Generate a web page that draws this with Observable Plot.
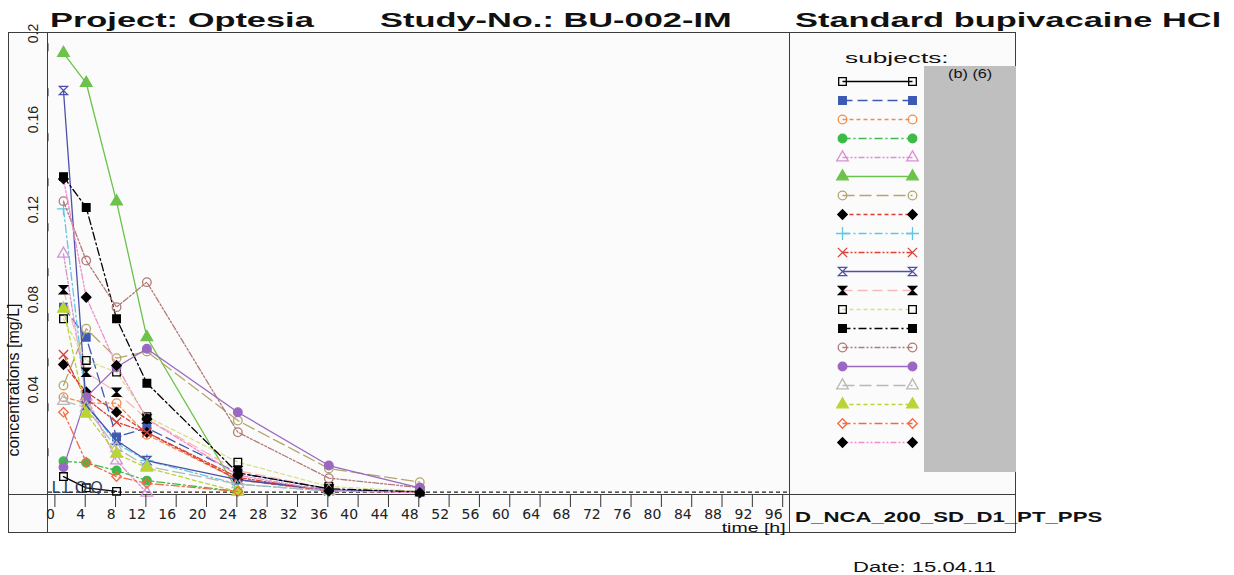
<!DOCTYPE html>
<html><head><meta charset="utf-8">
<script src="https://cdn.jsdelivr.net/npm/d3@7"></script>
<script src="https://cdn.jsdelivr.net/npm/@observablehq/plot@0.6"></script>
<style>
body{margin:0;background:#fff;}
#wrap{position:relative;width:1234px;height:575px;overflow:hidden;font-family:"Liberation Sans",Arial,sans-serif;color:#111;}
.t{position:absolute;white-space:nowrap;transform-origin:0 0;line-height:1;}
.ln{position:absolute;border-color:#3c3c3c;border-style:solid;border-width:0;}
#main,#legend{position:absolute;}
#main g[aria-label="x-axis tick label"]{font-family:"DejaVu Sans",sans-serif;font-size:14px;}
#main g[aria-label="y-axis tick label"]{font-family:"Liberation Sans",Arial,sans-serif;font-size:14px;}
#main g[aria-label="text"] text{letter-spacing:3px;}
</style></head><body><div id="wrap">
<div class="ln" style="left:8px;top:32px;width:1008px;height:501px;border-width:1.5px;box-sizing:border-box;background:#fbfbfb"></div>
<div class="ln" style="left:8px;top:494px;width:1008px;height:0;border-top-width:1.5px"></div>
<div class="ln" style="left:47px;top:32px;width:0;height:501px;border-left-width:1.5px"></div>
<div class="ln" style="left:789px;top:32px;width:0;height:501px;border-left-width:1.5px"></div>
<div style="position:absolute;left:924px;top:66px;width:92px;height:406px;background:#bfbfbf"></div>
<div class="t" style="left:948px;top:67px;font-size:13px;transform:scaleX(1.25)">(b) (6)</div>
<div class="t" style="left:845px;top:50px;font-size:15px;transform:scaleX(1.75)">subjects:</div>
<div class="t" style="left:50px;top:10px;font-size:20px;font-weight:bold;transform:scaleX(1.72)">Project: Optesia</div>
<div class="t" style="left:380px;top:10px;font-size:20px;font-weight:bold;transform:scaleX(1.72)">Study-No.: BU-002-IM</div>
<div class="t" style="left:795px;top:10px;font-size:20px;font-weight:bold;transform:scaleX(1.72)">Standard bupivacaine HCl</div>
<div class="t" style="left:795px;top:509px;font-size:15px;font-weight:bold;transform:scaleX(1.48)">D_NCA_200_SD_D1_PT_PPS</div>
<div class="t" style="left:853px;top:559px;font-size:15px;transform:scaleX(1.47)">Date: 15.04.11</div>
<div class="t" style="right:448px;top:521px;font-size:13px;transform-origin:100% 0;transform:scaleX(1.5)">time [h]</div>
<div class="t" style="left:14px;top:380px;font-size:16px;transform-origin:50% 50%;transform:translate(-50%,-50%) rotate(-90deg)">concentrations [mg/L]</div>
<div id="main" style="left:8px;top:32px"></div>
<div id="legend" style="left:790px;top:32px"></div>
</div>
<script>
// sampling times [h]
const times = [1, 4, 8, 12, 24, 36, 48];
const subjects = ["S01","S02","S03","S04","S05","S06","S07","S08","S09","S10","S11","S12","S13","S14","S15","S16","S17","S18","S19","S20"];
// concentrations [mg/L] per subject at the sampling times (null = not shown)
const s01 = [0.0074, 0.0024, 0.0008, null, null, null, null];
const s02 = [0.0827, 0.0693, 0.0250, 0.0290, 0.0090, 0.0020, null];
const s03 = [0.0427, 0.0400, 0.0400, 0.0260, 0.0060, 0.0010, null];
const s04 = [0.0142, 0.0135, 0.0101, 0.0056, 0.0008, null, null];
const s05 = [0.1064, 0.0430, 0.0145, 0.0002, null, null, null];
const s06 = [0.1956, 0.1823, 0.1296, 0.0693, 0.0008, null, null];
const s07 = [0.0479, 0.0731, 0.0600, 0.0630, 0.0323, 0.0110, 0.0049];
const s08 = [0.0572, 0.0450, 0.0360, 0.0270, 0.0060, 0.0010, null];
const s09 = [0.1264, 0.0400, 0.0220, 0.0145, 0.0040, 0.0010, null];
const s10 = [0.0616, 0.0420, 0.0316, 0.0270, 0.0070, 0.0010, null];
const s11 = [0.1790, 0.0390, 0.0234, 0.0145, 0.0060, 0.0015, 0.0008];
const s12 = [0.0904, 0.0538, 0.0449, 0.0330, 0.0100, 0.0020, null];
const s13 = [0.0775, 0.0590, 0.0538, 0.0340, 0.0138, 0.0030, 0.0008];
const s14 = [0.1407, 0.1270, 0.0775, 0.0489, 0.0090, 0.0020, 0.0005];
const s15 = [0.1298, 0.1034, 0.0827, 0.0938, 0.0271, 0.0067, 0.0025];
const s16 = [0.0115, 0.0427, 0.0560, 0.0642, 0.0360, 0.0123, 0.0024];
const s17 = [0.0410, 0.0380, 0.0200, 0.0120, 0.0040, 0.0010, null];
const s18 = [0.0820, 0.0353, 0.0175, 0.0113, 0.0006, null, null];
const s19 = [0.0360, 0.0138, 0.0074, 0.0044, 0.0008, null, null];
const s20 = [0.1397, 0.0871, 0.0568, 0.0330, 0.0080, 0.0010, 0.0002];
const concentrations = [s01,s02,s03,s04,s05,s06,s07,s08,s09,s10,s11,s12,s13,s14,s15,s16,s17,s18,s19,s20];
const lloq = 0.0005;
const lloqLabel = ["LLOQ"];
const xTicks = [0,4,8,12,16,20,24,28,32,36,40,44,48,52,56,60,64,68,72,76,80,84,88,92,96];
const yTicks = [0.02,0.04,0.06,0.08,0.10,0.12,0.14,0.16,0.18,0.20];
const yTickLabels = ["","0.04","","0.08","","0.12","","0.16","","0.2"];

// styles
const lineColors = ["#000000","#3c5ab4","#f58c4c","#3dba4a","#d990d4","#6cc24a","#b3a66c","#d93b35","#60c8e4","#d9413a",
                    "#4d50a8","#f7b8b8","#d8e08c","#000000","#b07a78","#9a68c2","#b8b8b8","#b9d534","#f26a43","#f08fc9"];
const markColors = ["#000000","#3c5ab4","#f58c4c","#3dba4a","#d990d4","#6cc24a","#b3a66c","#000000","#60c8e4","#d9413a",
                    "#4d50a8","#000000","#000000","#000000","#b07a78","#9a68c2","#b8b8b8","#b9d534","#f26a43","#000000"];
const filled = [false,true,false,true,false,true,false,true,false,false,false,true,false,true,false,true,false,true,false,true];
const dashes = [null,"10,5","4,3","8,3,2,3","6,2,2,2,2,2", null,"12,5","4,3","8,3,2,3","6,2,2,2,2,2",
                null,"10,5","4,3","8,3,2,3","6,2,2,2,2,2", null,"12,5","4,3","8,3,2,3","6,2,2,2,2,2"];
const hourglass = {draw(ctx, size){ const r = Math.sqrt(size/Math.PI)*0.95; ctx.moveTo(-r,-r); ctx.lineTo(r,-r); ctx.lineTo(-r,r); ctx.lineTo(r,r); ctx.closePath(); }};
const rhomb = {draw(ctx, size){ const r = Math.sqrt(size/Math.PI)*1.1; ctx.moveTo(0,-r); ctx.lineTo(r,0); ctx.lineTo(0,r); ctx.lineTo(-r,0); ctx.closePath(); }};
const symbols = ["square","square","circle","circle","triangle","triangle","circle",rhomb,"plus","times",
                 hourglass,hourglass,"square","square","circle","circle","triangle","triangle",rhomb,rhomb];

const rows = [];
concentrations.forEach((vals, i) => vals.forEach((c, j) => { if (c != null) rows.push({subject: subjects[i], time: times[j], conc: c}); }));

const marks = [
  Plot.ruleY([lloq], {stroke: "#222", strokeWidth: 1.4, strokeDasharray: "4,3"})
];
subjects.forEach((s, i) => {
  const d = rows.filter(r => r.subject === s);
  marks.push(Plot.line(d, {x: "time", y: "conc", stroke: lineColors[i], strokeWidth: 1.3, strokeDasharray: dashes[i] || undefined}));
  marks.push(Plot.dot(d, {x: "time", y: "conc", symbol: symbols[i], r: 4.3, stroke: markColors[i], strokeWidth: 1.3, fill: filled[i] ? markColors[i] : "none"}));
});
marks.push(Plot.text(lloqLabel, {text: d => d, frameAnchor: "bottom-left", textAnchor: "start", lineAnchor: "bottom", dx: 3, dy: -3, fontSize: 16, fill: "#2a3b5e", fontFamily: "DejaVu Sans"}));
marks.push(Plot.axisY({ticks: yTicks, tickSize: 8, tickPadding: 3, stroke: "#333", tickFormat: d => { const k = yTicks.findIndex(t => Math.abs(t - d) < 1e-9); return k >= 0 ? yTickLabels[k] : ""; }, rotate: -90, textAnchor: "start", lineAnchor: "bottom", label: null}));
marks.push(Plot.axisX({ticks: xTicks, tickSize: 12, tickPadding: 2, stroke: "#333", textAnchor: "end", dx: -1, label: null, tickFormat: d => String(d)}));

const main = Plot.plot({
  width: 782, height: 501,
  marginLeft: 40, marginRight: 0, marginTop: 0, marginBottom: 38,
  style: {background: "transparent", overflow: "visible", fontFamily: "Liberation Sans, Arial, sans-serif", fontSize: "14px", color: "#222"},
  x: {domain: [-0.976, 96.9]},
  y: {domain: [-0.00102, 0.20476]},
  marks
});
document.getElementById("main").appendChild(main);

// legend
const legMarks = [];
subjects.forEach((s, i) => {
  legMarks.push(Plot.link([{subject: s}], {x1: () => 0, x2: () => 1, y1: "subject", y2: "subject", stroke: lineColors[i], strokeWidth: 1.3, strokeDasharray: dashes[i] || undefined}));
  legMarks.push(Plot.dot([{subject: s, x: 0}, {subject: s, x: 1}], {x: "x", y: "subject", symbol: symbols[i], r: 4.3, stroke: markColors[i], strokeWidth: 1.3, fill: filled[i] ? markColors[i] : "none"}));
});
const legend = Plot.plot({
  width: 226, height: 463, margin: 0,
  style: {background: "transparent", overflow: "visible"},
  x: {domain: [0, 1], range: [52, 122], axis: null},
  y: {type: "point", domain: subjects, range: [43.5, 416], padding: 0, axis: null},
  marks: legMarks
});
document.getElementById("legend").appendChild(legend);
</script>
</body></html>
